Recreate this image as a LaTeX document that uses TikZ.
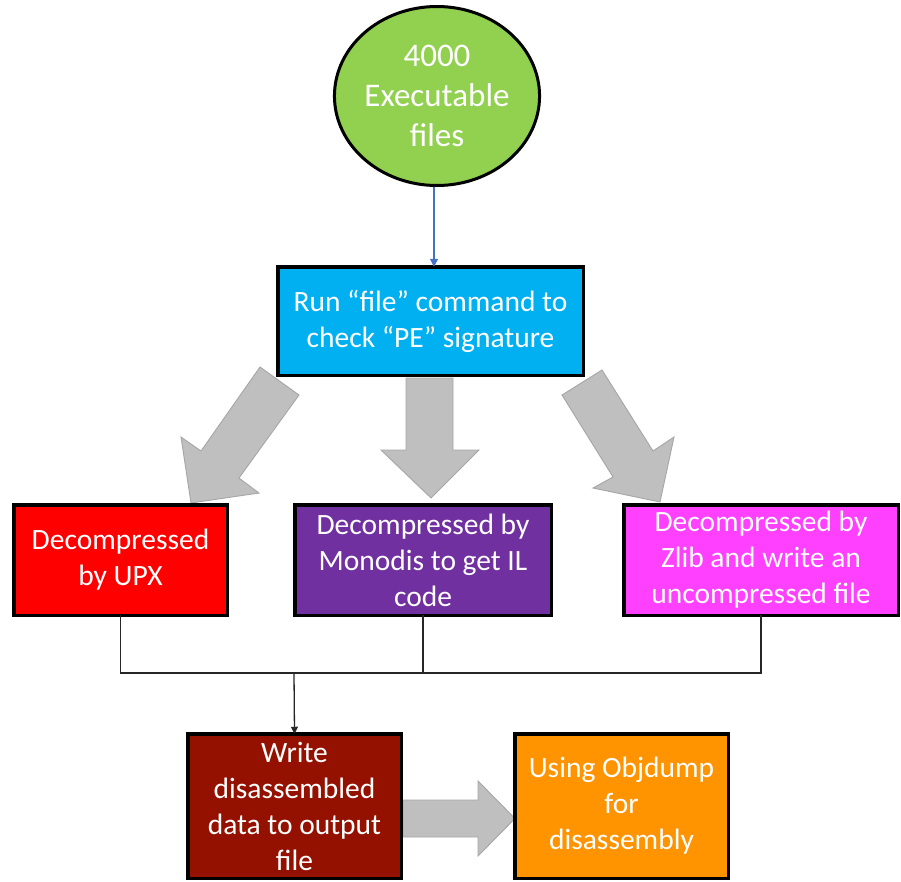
\documentclass[tikz,border=0pt]{standalone}
\usepackage{fontspec}
\setmainfont{Carlito}
\usetikzlibrary{arrows.meta,shapes.geometric}

\definecolor{leaf}{HTML}{92D050}
\definecolor{sky}{HTML}{00B0F0}
\definecolor{upxred}{HTML}{FF0000}
\definecolor{monopurple}{HTML}{7030A0}
\definecolor{zlibpink}{HTML}{FF40FF}
\definecolor{maroon}{HTML}{941100}
\definecolor{amber}{HTML}{FF9300}
\definecolor{blockfill}{HTML}{BFBFBF}
\definecolor{blockline}{HTML}{A6A6A6}
\definecolor{flowblue}{HTML}{4472C4}
\definecolor{wire}{HTML}{262626}

\tikzset{
  procbox/.style={rectangle, draw=black, line width=3.5pt, inner sep=0pt, outer sep=0pt,
    text=white, align=center, font=\fontsize{29.5}{36}\selectfont},
  blockarrow/.style={fill=blockfill, draw=blockline, line width=0.9pt, line join=miter},
  wireline/.style={draw=wire, line width=1.3pt},
  wirearrow/.style={wireline, -{Triangle[length=7pt,width=7pt]}},
  bluearrow/.style={draw=flowblue, line width=1.4pt, -{Triangle[length=8pt,width=8pt]}}
}

\begin{document}
\begin{tikzpicture}[x=1pt,y=-1pt]
\useasboundingbox (0,0) rectangle (901,881);

% grey block arrows fanning out from the check step
\draw[blockarrow] (260,367) -- (299,395) -- (239,478) -- (259,493) -- (191,503) -- (181,437) -- (201,451) -- cycle;
\draw[blockarrow] (406,378) -- (453,378) -- (453,450) -- (479,450) -- (431,498) -- (381,450) -- (406,450) -- cycle;
\draw[blockarrow] (562,395) -- (602,370) -- (653,451) -- (674,437) -- (660,502) -- (593,488) -- (613,477) -- cycle;
% grey block arrow between the two bottom steps
\draw[blockarrow] (403,800) -- (478,800) -- (478,781) -- (515,818.5) -- (478,856) -- (478,837) -- (403,837) -- cycle;

% start node
\node[ellipse, draw=black, line width=3pt, fill=leaf, inner sep=0pt,
      minimum width=195pt, minimum height=179pt, text=white, align=center,
      font=\fontsize{33}{40}\selectfont] (start) at (437,96) {4000\\Executable\\files};

% process steps
\node[procbox, fill=sky, minimum width=305.5pt, minimum height=108.5pt] (check) at (430.5,321)
  {Run “file” command to\\check “PE” signature};
\node[procbox, fill=upxred, minimum width=213.5pt, minimum height=110.5pt] (upx) at (120.5,560)
  {Decompressed\\by UPX};
\node[procbox, fill=monopurple, minimum width=256.5pt, minimum height=110.5pt] (mono) at (423,560)
  {Decompressed by\\Monodis to get IL\\code};
\node[procbox, fill=zlibpink, minimum width=274.5pt, minimum height=110.5pt] (zlib) at (761,560)
  {Decompressed by\\Zlib and write an\\uncompressed file};
\node[procbox, fill=maroon, minimum width=213.5pt, minimum height=144.5pt] (write) at (294.5,806)
  {Write\\disassembled\\data to output\\file};
\node[procbox, fill=amber, minimum width=213.5pt, minimum height=144.5pt] (objd) at (621.5,806)
  {Using Objdump\\for\\disassembly};

% connectors
\draw[bluearrow] ([xshift=-3pt]start.south) -- ([xshift=-3pt]start.south |- check.north);
\coordinate (bus) at (294,673);
\draw[wireline] (upx.south) |- (bus -| zlib.south) -- (zlib.south);
\draw[wireline] (mono.south) -- (mono.south |- bus);
\draw[wirearrow] (bus) -- (write.north);
\end{tikzpicture}
\end{document}
